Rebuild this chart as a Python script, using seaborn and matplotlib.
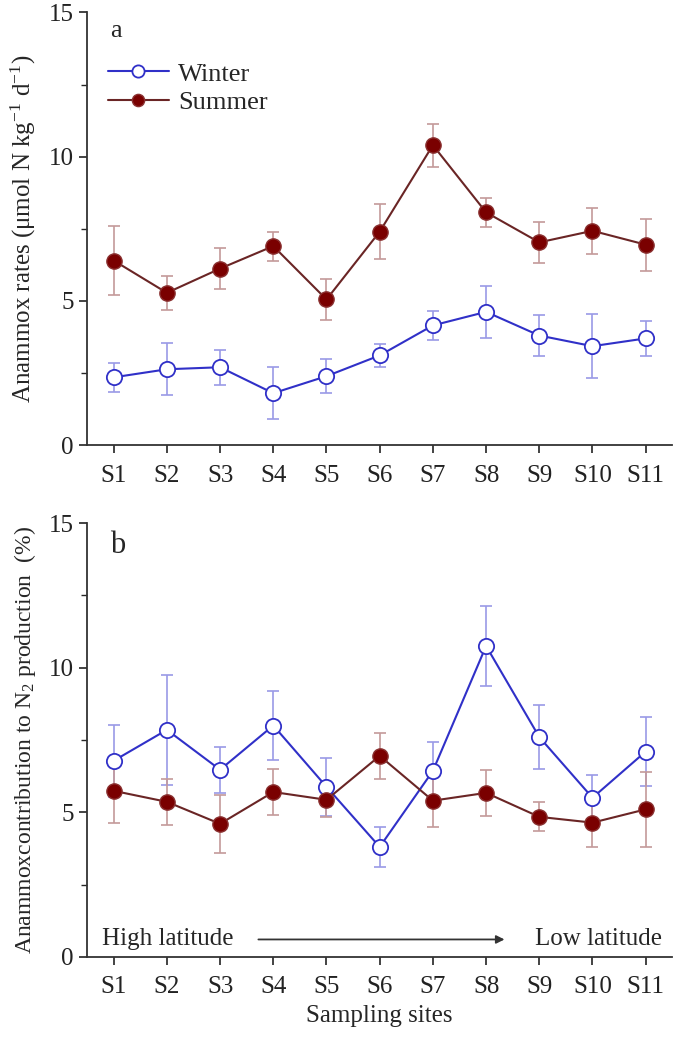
import numpy as np
import pandas as pd
import seaborn as sns
import matplotlib.pyplot as plt
from matplotlib.ticker import MultipleLocator

sites = ['S1', 'S2', 'S3', 'S4', 'S5', 'S6', 'S7', 'S8', 'S9', 'S10', 'S11']

# panel a: anammox rates
rate_winter = [2.35, 2.63, 2.70, 1.80, 2.39, 3.11, 4.15, 4.62, 3.80, 3.43, 3.70]
rate_winter_err = [0.5, 0.9, 0.6, 0.9, 0.6, 0.4, 0.5, 0.9, 0.7, 1.1, 0.6]
rate_summer = [6.40, 5.28, 6.12, 6.90, 5.05, 7.40, 10.40, 8.07, 7.03, 7.43, 6.95]
rate_summer_err = [1.2, 0.6, 0.7, 0.5, 0.7, 0.95, 0.75, 0.5, 0.7, 0.8, 0.9]

# panel b: contribution to N2 production
contr_winter = [6.78, 7.85, 6.47, 8.00, 5.88, 3.80, 6.43, 10.75, 7.60, 5.50, 7.10]
contr_winter_err = [1.25, 1.9, 0.8, 1.2, 1.0, 0.7, 1.0, 1.4, 1.1, 0.8, 1.2]
contr_summer = [5.74, 5.36, 4.60, 5.70, 5.43, 6.95, 5.40, 5.67, 4.84, 4.64, 5.10]
contr_summer_err = [1.1, 0.8, 1.0, 0.8, 0.6, 0.8, 0.9, 0.8, 0.5, 0.85, 1.3]

sns.set_style('ticks')
plt.rcParams['font.family'] = ['Liberation Serif', 'DejaVu Serif']
plt.rcParams['mathtext.fontset'] = 'custom'
plt.rcParams['mathtext.rm'] = 'Liberation Serif'
plt.rcParams['mathtext.it'] = 'Liberation Serif:italic'

blue = '#3030c8'
blue_err = '#9a9ae6'
red_line = '#6a2525'
red_fill = '#7a0000'
red_err = '#c49a9a'

x = np.arange(len(sites))

fig = plt.figure(figsize=(6.75, 10.4), dpi=100)
ax_a = fig.add_axes([0.129, 0.572, 0.867, 0.416])
ax_b = fig.add_axes([0.129, 0.080, 0.867, 0.417])


def draw_panel(ax, winter, winter_err, summer, summer_err):
    df = pd.DataFrame({'x': np.concatenate([x, x]),
                       'y': winter + summer,
                       'season': ['Winter'] * len(x) + ['Summer'] * len(x)})
    ax.errorbar(x, winter, yerr=winter_err, fmt='none', ecolor=blue_err,
                elinewidth=1.2, capsize=4, capthick=1.2, zorder=1)
    ax.errorbar(x, summer, yerr=summer_err, fmt='none', ecolor=red_err,
                elinewidth=1.2, capsize=4, capthick=1.2, zorder=1)
    sns.lineplot(data=df[df.season == 'Winter'], x='x', y='y', ax=ax,
                 color=blue, lw=1.5, marker='o', markersize=11,
                 markerfacecolor='white', markeredgecolor=blue,
                 markeredgewidth=1.3, label='Winter', zorder=3)
    sns.lineplot(data=df[df.season == 'Summer'], x='x', y='y', ax=ax,
                 color=red_line, lw=1.5, marker='o', markersize=11,
                 markerfacecolor=red_fill, markeredgecolor='#8a3030',
                 markeredgewidth=1.0, label='Summer', zorder=3)
    ax.set_xlim(-0.5, 10.5)
    ax.set_ylim(0, 15)
    ax.set_xticks(x)
    ax.set_xticklabels(sites)
    ax.yaxis.set_major_locator(MultipleLocator(5))
    ax.yaxis.set_minor_locator(MultipleLocator(2.5))
    ax.tick_params(axis='both', which='major', labelsize=18, length=6,
                   width=1.2, direction='out', colors='#222222')
    ax.tick_params(axis='x', which='major', pad=8)
    ax.tick_params(axis='y', which='minor', length=4, width=1.0)
    for sp in ['left', 'bottom']:
        ax.spines[sp].set_linewidth(1.3)
        ax.spines[sp].set_color('#333333')
    sns.despine(ax=ax)
    ax.set_xlabel('')


draw_panel(ax_a, rate_winter, rate_winter_err, rate_summer, rate_summer_err)
draw_panel(ax_b, contr_winter, contr_winter_err, contr_summer, contr_summer_err)

ax_a.legend(loc='upper left', bbox_to_anchor=(-0.005, 0.94), frameon=False,
            fontsize=19, handlelength=2.3, handletextpad=0.35,
            labelspacing=0.2, borderaxespad=0.5, markerscale=0.8)
ax_b.get_legend().remove()

ax_a.set_ylabel('Anammox rates (μmol N kg$^{-1}$ d$^{-1}$)', fontsize=18,
                labelpad=8)
ax_b.set_ylabel('Anammoxcontribution to N$_2$ production  (%)', fontsize=17,
                labelpad=8)
ax_b.set_xlabel('Sampling sites', fontsize=18, labelpad=5)

ax_a.text(0.04, 0.958, 'a', transform=ax_a.transAxes, fontsize=19,
          va='center', ha='left')
ax_b.text(0.04, 0.949, 'b', transform=ax_b.transAxes, fontsize=22,
          va='center', ha='left')

ax_b.text(0.026, 0.04, 'High latitude', transform=ax_b.transAxes,
          fontsize=18, va='center', ha='left')
ax_b.text(0.982, 0.04, 'Low latitude', transform=ax_b.transAxes,
          fontsize=18, va='center', ha='right')
ax_b.annotate('', xy=(0.718, 0.04), xytext=(0.288, 0.04),
              xycoords='axes fraction', textcoords='axes fraction',
              arrowprops=dict(arrowstyle='-|>', color='#333333', lw=1.3,
                              mutation_scale=12))

fig.savefig('out.png', dpi=100)
